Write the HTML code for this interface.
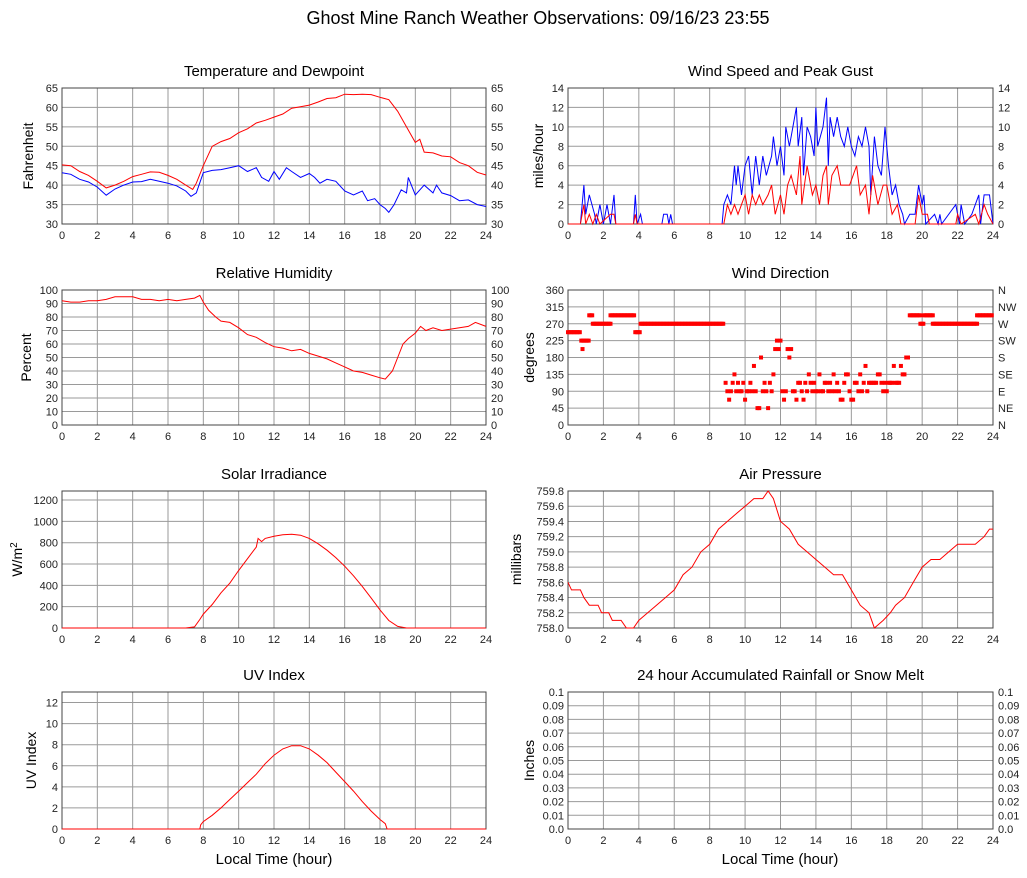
<!DOCTYPE html>
<html><head><meta charset="utf-8"><style>
body{margin:0;background:#fff;}
svg{display:block;font-family:"Liberation Sans",sans-serif;}
</style></head><body>
<svg id="c" width="1027" height="878" viewBox="0 0 1027 878" xmlns="http://www.w3.org/2000/svg">
<text x="538" y="24" font-size="18" text-anchor="middle" fill="#000">Ghost Mine Ranch Weather Observations: 09/16/23 23:55</text>
</svg>
<script>
const tempHours=[0,0.5,1,1.5,2,2.5,3,3.5,4,4.5,5,5.5,6,6.5,7,7.4,7.6,8,8.5,9,9.5,10,10.5,11,11.5,12,12.5,13,13.5,14,14.5,15,15.5,16,16.5,17,17.5,18,18.5,19,19.5,20,20.25,20.5,21,21.5,22,22.5,23,23.5,24];
const tempVals=[45.2,45,43.5,42.5,41,39.3,40,41,42.2,42.8,43.4,43.3,42.5,41.5,40,38.9,40.5,45,50,51.2,52,53.5,54.5,56,56.7,57.5,58.3,59.8,60.2,60.6,61.4,62.3,62.5,63.4,63.3,63.4,63.3,62.6,62,59,55,51,51.8,48.5,48.3,47.5,47.3,45.8,45,43.3,42.6];
const dewHours=[0,0.5,1,1.5,2,2.5,3,3.5,4,4.5,5,5.5,6,6.5,7,7.3,7.6,8,8.5,9,9.5,10,10.5,11,11.3,11.7,12,12.3,12.7,13,13.5,14,14.3,14.6,15,15.5,16,16.5,17,17.3,17.7,18,18.3,18.5,18.8,19.2,19.5,19.6,20,20.5,21,21.2,21.5,22,22.5,23,23.5,24];
const dewVals=[43.2,42.8,41.5,40.8,39.5,37.4,39,40,40.8,40.9,41.5,41,40.5,39.8,38.5,37.1,38,43.2,43.8,44,44.5,45,43.5,44.5,42,41,43.5,41.5,44.5,43.5,42,43,42,40.5,41.5,41,38.5,37.5,38.5,36,36.5,35,34,33,35,38.8,38,42,37.5,40,38,40,38,37.3,36,36.2,35,34.5];
const rhHours=[0,0.5,1,1.5,2,2.5,3,3.5,4,4.5,5,5.5,6,6.5,7,7.5,7.8,8,8.3,8.7,9,9.5,10,10.5,11,11.5,12,12.5,13,13.5,14,14.5,15,15.5,16,16.5,17,17.5,18,18.3,18.7,19,19.3,19.6,20,20.3,20.6,21,21.5,22,22.5,23,23.4,24];
const rhVals=[92,91,91,92,92,93,95,95,95,93,93,92,93,92,93,94,96,91,85,80,77,76,72,67,65,61,58,57,55,56,53,51,49,46,43,40,39,37,35,34,40,50,60,64,68,73,70,72,70,71,72,73,76,73];
const solarHours=[0,7,7.5,7.8,8,8.5,9,9.5,10,10.5,11,11.1,11.3,11.5,12,12.5,13,13.5,14,14.5,15,15.5,16,16.5,17,17.5,18,18.5,19,19.5,24];
const solarVals=[0,0,10,80,130,220,330,420,540,650,760,840,810,840,860,875,880,870,840,790,730,660,580,490,390,280,170,70,15,0,0];
const uvHours=[0,7.8,7.85,8,8.5,9,9.5,10,10.5,11,11.5,12,12.5,13,13.5,14,14.5,15,15.5,16,16.5,17,17.5,18,18.3,18.4,24];
const uvVals=[0,0,0.4,0.7,1.3,2,2.8,3.6,4.4,5.2,6.2,7,7.6,7.9,7.9,7.6,7,6.3,5.4,4.5,3.6,2.6,1.7,0.9,0.5,0,0];
const presHours=[0,0.2,0.7,0.9,1.2,1.7,1.9,2.3,2.5,3,3.3,3.7,4,4.5,5,5.5,6,6.5,7,7.5,8,8.5,9,9.5,10,10.5,11,11.3,11.6,12,12.5,13,13.5,14,14.5,15,15.5,16,16.5,17,17.3,17.8,18.2,18.5,19,19.5,20,20.5,21,21.5,22,23,23.5,23.8,24];
const presVals=[758.6,758.5,758.5,758.4,758.3,758.3,758.2,758.2,758.1,758.1,758.0,758.0,758.1,758.2,758.3,758.4,758.5,758.7,758.8,759.0,759.1,759.3,759.4,759.5,759.6,759.7,759.7,759.8,759.7,759.4,759.3,759.1,759.0,758.9,758.8,758.7,758.7,758.5,758.3,758.2,758.0,758.1,758.2,758.3,758.4,758.6,758.8,758.9,758.9,759.0,759.1,759.1,759.2,759.3,759.3];
const gustHours=[0,0.7,0.9,1,1.2,1.5,1.6,1.8,2,2.2,2.4,2.6,2.7,3.7,3.8,3.9,4.1,4.2,5.3,5.4,5.6,5.7,5.8,5.9,8.7,8.8,9,9.2,9.4,9.5,9.6,9.8,10,10.2,10.4,10.6,10.8,11,11.2,11.5,11.6,11.8,12,12.2,12.3,12.5,12.7,12.9,13,13.2,13.3,13.5,13.7,13.9,14,14.1,14.4,14.6,14.7,14.8,15,15.2,15.4,15.6,15.8,16,16.2,16.4,16.6,16.8,17,17.1,17.3,17.5,17.7,17.9,18.1,18.3,18.5,18.7,18.9,19,19.3,19.6,19.8,20,20.1,20.2,20.7,20.9,21,21.1,21.9,22.1,22.2,22.4,22.8,23,23.2,23.3,23.5,23.8,24];
const gustVals=[0,0,4,1,3,1,0,2,0,2,0,3,0,0,3,0,1,0,0,1,1,0,1,0,0,2,3,2,6,4,6,3,6,7,3,7,4,7,5,7,9,6,8,5,10,8,10,12,8,11,5,10,9,7,12,8,10,13,6,11,9,11,9,8,10,8,7,9,8,10,8,3,9,6,5,10,6,3,4,2,1,0,1,1,4,2,3,0,1,0,1,0,2,0,2,0,1,2,3,0,3,3,0];
const speedHours=[0,0.7,0.9,1,1.2,1.4,1.6,1.8,2.4,2.6,2.7,3.7,3.8,3.9,8.8,9,9.2,9.4,9.6,9.8,10,10.2,10.4,10.6,10.8,11,11.3,11.5,11.7,12,12.2,12.4,12.6,12.9,13.1,13.2,13.5,13.8,14,14.2,14.4,14.6,14.7,14.9,15.2,15.4,15.6,15.9,16.3,16.5,16.8,17,17.2,17.5,17.8,18,18.3,18.6,18.8,19,19.6,19.8,20,20.3,20.4,21.9,22,22.2,23,23.2,23.5,23.7,24];
const speedVals=[0,0,2,0,1,0,1,0,1,1,0,0,1,0,0,2,1,2,1,2,3,1,3,2,3,2,3,4,1,3,1,4,5,3,7,2,6,3,4,2,5,6,2,5,6,4,4,4,6,3,4,1,5,2,4,4,1,2,0,0,0,3,1,1,0,0,1,0,1,0,2,1,0];
const dirRunStart=[0,0.75,1.2,1.4,2.4,3.8,4.1,19.3,19.9,20.1,20.6,23.1];
const dirRunEnd=[0.7,1.2,1.4,2.4,3.8,4.1,8.8,19.9,20.1,20.6,23.1,24];
const dirRunDeg=[247.5,225,292.5,270,292.5,247.5,270,292.5,270,292.5,270,292.5];
const dirHours=[0.82,8.9,9.0,9.1,9.2,9.3,9.4,9.5,9.6,9.7,9.8,9.9,10.0,10.1,10.2,10.3,10.4,10.5,10.6,10.7,10.8,10.9,11.0,11.1,11.2,11.3,11.4,11.5,11.6,11.7,11.8,11.9,12.0,12.1,12.2,12.3,12.4,12.5,12.6,12.7,12.8,12.9,13.0,13.1,13.2,13.3,13.4,13.5,13.6,13.7,13.8,13.9,14.0,14.1,14.2,14.3,14.4,14.5,14.6,14.7,14.8,14.9,15.0,15.1,15.2,15.3,15.4,15.5,15.6,15.7,15.8,15.9,16.0,16.1,16.2,16.3,16.4,16.5,16.6,16.7,16.8,16.9,17.0,17.1,17.2,17.3,17.4,17.5,17.6,17.7,17.8,17.9,18.0,18.1,18.2,18.3,18.4,18.5,18.6,18.7,18.8,18.9,19.0,19.1,19.2];
const dirDegs=[202.5,112.5,90,67.5,90,112.5,135,90,112.5,90,90,112.5,67.5,90,90,112.5,90,157.5,90,45,45,180,90,112.5,90,45,112.5,90,135,202.5,225,202.5,225,90,67.5,90,202.5,180,202.5,90,90,67.5,112.5,112.5,90,67.5,112.5,90,135,112.5,90,112.5,90,90,135,90,90,112.5,112.5,90,112.5,90,135,90,112.5,90,67.5,67.5,112.5,135,135,90,67.5,67.5,112.5,112.5,90,135,90,112.5,157.5,90,112.5,112.5,112.5,112.5,112.5,135,135,112.5,90,112.5,90,112.5,112.5,112.5,157.5,112.5,112.5,112.5,157.5,135,135,180,180];
const xTicks=[0,2,4,6,8,10,12,14,16,18,20,22,24];

const NS="http://www.w3.org/2000/svg";
const svg=document.getElementById('c');
function mk(tag,attrs,parent){const e=document.createElementNS(NS,tag);for(const k in attrs)e.setAttribute(k,attrs[k]);(parent||svg).appendChild(e);return e;}

function panel(o){
  const g=mk('g',{});
  
  
  const sx=h=>o.x0+(h/24)*(o.x1-o.x0);
  const sy=v=>o.y1-(v-o.ymin)/(o.ymax-o.ymin)*(o.y1-o.y0);
  const t=mk('text',{x:(o.x0+o.x1)/2,y:o.y0-12,'font-size':15,'text-anchor':'middle',fill:'#000'},g);
  t.textContent=o.title;
  
  
  xTicks.forEach(h=>{
    if(h>0&&h<24){const l=mk('line',{x1:sx(h),x2:sx(h),y1:o.y0,y2:o.y1,stroke:'#9a9a9a','stroke-width':1},g);
    
    }
    const tx=mk('text',{x:sx(h),y:o.y1+15,'font-size':11,'text-anchor':'middle',fill:'#222'},g);
    tx.textContent=h;
    
    
  });
  o.yTicks.forEach((v,i)=>{
    const y=sy(v);
    if(v>o.ymin&&v<o.ymax){const l=mk('line',{x1:o.x0,x2:o.x1,y1:y,y2:y,stroke:'#9a9a9a','stroke-width':1},g);
    
    }
    const ty=mk('text',{x:o.x0-4,y:y+4,'font-size':11,'text-anchor':'end',fill:'#222'},g);
    ty.textContent=o.yLabels?o.yLabels[i]:v;
    
    
    if(o.rLabels){const tr=mk('text',{x:o.x1+5,y:y+4,'font-size':11,'text-anchor':'start',fill:'#222'},g);
    tr.textContent=o.rLabels[i];
    
    }
  });
  const b=mk('rect',{x:o.x0,y:o.y0,width:o.x1-o.x0,height:o.y1-o.y0,fill:'none',stroke:'#444','stroke-width':1},g);
  
  
  const yl=mk('text',{x:0,y:0,'font-size':14,'text-anchor':'middle',fill:'#000',transform:`translate(${o.ylx},${(o.y0+o.y1)/2}) rotate(-90)`},g);
  yl.innerHTML=o.ylabel;
  
  
  (o.series||[]).forEach(s=>{
    const d=s.h.map((h,i)=>(i?'L':'M')+sx(h).toFixed(1)+','+sy(s.v[i]).toFixed(1)).join('');
    const p=mk('path',{d:d,fill:'none',stroke:s.c,'stroke-width':1},g);
    
    
  });
  return {g,sx,sy};
}
const L={x0:62,x1:486},R={x0:568,x1:993};
const r1={y0:88,y1:224},r2={y0:290,y1:425},r3={y0:491,y1:628},r4={y0:692,y1:829};

panel({...L,...r1,name:'temperature-panel',title:'Temperature and Dewpoint',ymin:30,ymax:65,yTicks:[30,35,40,45,50,55,60,65],rLabels:[30,35,40,45,50,55,60,65],ylabel:'Fahrenheit',ylx:33,
  series:[{name:'temperature-line',h:tempHours,v:tempVals,c:'#ff0000'},{name:'dewpoint-line',h:dewHours,v:dewVals,c:'#0000ff'}]});
panel({...R,...r1,name:'wind-speed-panel',title:'Wind Speed and Peak Gust',ymin:0,ymax:14,yTicks:[0,2,4,6,8,10,12,14],rLabels:[0,2,4,6,8,10,12,14],ylabel:'miles/hour',ylx:543,
  series:[{name:'gust-line',h:gustHours,v:gustVals,c:'#0000ff'},{name:'speed-line',h:speedHours,v:speedVals,c:'#ff0000'}]});
panel({...L,...r2,name:'humidity-panel',title:'Relative Humidity',ymin:0,ymax:100,yTicks:[0,10,20,30,40,50,60,70,80,90,100],rLabels:[0,10,20,30,40,50,60,70,80,90,100],ylabel:'Percent',ylx:31,
  series:[{name:'humidity-line',h:rhHours,v:rhVals,c:'#ff0000'}]});
const wd=panel({...R,...r2,name:'wind-direction-panel',title:'Wind Direction',ymin:0,ymax:360,yTicks:[0,45,90,135,180,225,270,315,360],rLabels:['N','NE','E','SE','S','SW','W','NW','N'],ylabel:'degrees',ylx:534});
dirRunStart.forEach((s,i)=>{
  for(let h=s;h<=dirRunEnd[i]+1e-6;h+=1/12){
    const r=mk('rect',{x:wd.sx(h)-2,y:wd.sy(dirRunDeg[i])-2,width:4,height:4,fill:'#ff0000'},wd.g);
    
    
  }
});
dirHours.forEach((h,i)=>{
  const r=mk('rect',{x:wd.sx(h)-2,y:wd.sy(dirDegs[i])-2,width:4,height:4,fill:'#ff0000'},wd.g);
  
  
});
panel({...L,...r3,name:'solar-panel',title:'Solar Irradiance',ymin:0,ymax:1285,yTicks:[0,200,400,600,800,1000,1200],ylabel:'W/m<tspan dy="-5" font-size="10">2</tspan>',ylx:22,
  series:[{name:'solar-line',h:solarHours,v:solarVals,c:'#ff0000'}]});
panel({...R,...r3,name:'pressure-panel',title:'Air Pressure',ymin:758.0,ymax:759.8,yTicks:[758.0,758.2,758.4,758.6,758.8,759.0,759.2,759.4,759.6,759.8],yLabels:['758.0','758.2','758.4','758.6','758.8','759.0','759.2','759.4','759.6','759.8'],ylabel:'millibars',ylx:521,
  series:[{name:'pressure-line',h:presHours,v:presVals,c:'#ff0000'}]});
panel({...L,...r4,name:'uv-panel',title:'UV Index',ymin:0,ymax:13,yTicks:[0,2,4,6,8,10,12],ylabel:'UV Index',ylx:36,
  series:[{name:'uv-line',h:uvHours,v:uvVals,c:'#ff0000'}]});
const rt=[0,0.01,0.02,0.03,0.04,0.05,0.06,0.07,0.08,0.09,0.1];
const rl=['0.0','0.01','0.02','0.03','0.04','0.05','0.06','0.07','0.08','0.09','0.1'];
panel({...R,...r4,name:'rainfall-panel',title:'24 hour Accumulated Rainfall or Snow Melt',ymin:0,ymax:0.1,yTicks:rt,yLabels:rl,rLabels:rl,ylabel:'Inches',ylx:534});
[[274,'left-x-axis-title'],[780,'right-x-axis-title']].forEach(a=>{
  const t=mk('text',{x:a[0],y:864,'font-size':15,'text-anchor':'middle',fill:'#000'});
  t.textContent='Local Time (hour)';
  
  
});
</script>
</body></html>
